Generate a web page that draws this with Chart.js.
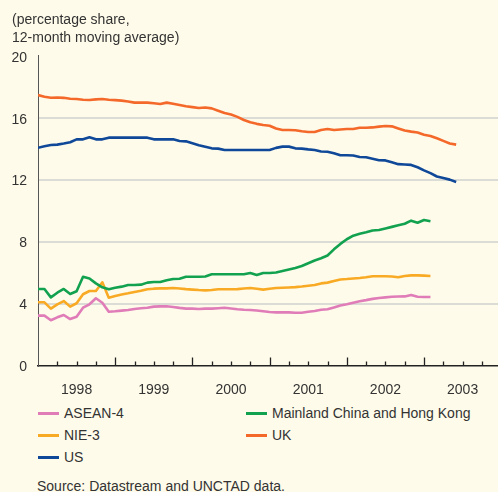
<!DOCTYPE html>
<html>
<head>
<meta charset="utf-8">
<script src="https://cdn.jsdelivr.net/npm/chart.js@4.4.1/dist/chart.umd.min.js"></script>
<style>
  html, body { margin: 0; padding: 0; background: #fefbea; }
  #wrap { position: relative; width: 498px; height: 492px; overflow: hidden; background: #fefbea;
          font-family: "Liberation Sans", Arial, Helvetica, sans-serif; color: #333; font-size: 14px; }
  #c { position: absolute; left: 0; top: 0; }
  .title { position: absolute; left: 12px; top: 11px; line-height: 17.5px; }
  .leg { position: absolute; height: 20px; line-height: 20px; white-space: nowrap; }
  .leg i { position: absolute; left: 0; top: 9px; width: 21px; height: 3px; }
  .leg span { position: absolute; left: 26px; top: 0; }
  .src { position: absolute; left: 37px; top: 478px; }
</style>
</head>
<body>
<div id="wrap">
  <canvas id="c" width="498" height="400"></canvas>
  <div class="title">(percentage share,<br>12-month moving average)</div>
  <div id="legend"></div>
  <div class="src">Source: Datastream and UNCTAD data.</div>
</div>
<script>
// Monthly observations, starting January 1998
const yearLabels = ["1998", "1999", "2000", "2001", "2002", "2003"];
const yTicks = [0, 4, 8, 12, 16, 20];

const seriesNames = ["ASEAN-4", "Mainland China and Hong Kong", "NIE-3", "UK", "US"];

const asean4 = [3.22,3.22,2.92,3.11,3.26,3.00,3.15,3.73,3.95,4.34,4.05,3.47,3.50,3.54,3.58,3.65,3.70,3.73,3.80,3.82,
  3.82,3.78,3.72,3.67,3.67,3.65,3.67,3.67,3.70,3.73,3.68,3.63,3.60,3.58,3.55,3.50,3.45,3.43,3.43,3.43,
  3.41,3.41,3.47,3.52,3.60,3.63,3.75,3.87,3.95,4.05,4.15,4.22,4.30,4.36,4.40,4.44,4.45,4.46,4.55,4.44,
  4.42,4.42];

const chinaHK = [4.94,4.94,4.40,4.70,4.94,4.62,4.79,5.73,5.62,5.30,5.05,4.92,5.02,5.09,5.20,5.20,5.22,5.35,5.39,5.39,
  5.50,5.58,5.60,5.73,5.73,5.73,5.75,5.89,5.89,5.89,5.89,5.89,5.89,5.97,5.84,5.97,5.97,6.00,6.10,6.20,
  6.30,6.42,6.60,6.78,6.92,7.10,7.50,7.85,8.15,8.38,8.50,8.60,8.72,8.75,8.85,8.95,9.05,9.15,9.35,9.22,
  9.39,9.31];

const nie3 = [4.08,4.08,3.67,3.95,4.16,3.80,4.02,4.60,4.81,4.81,5.37,4.38,4.49,4.58,4.66,4.75,4.82,4.92,4.96,4.98,
  4.98,5.00,4.97,4.93,4.90,4.87,4.85,4.87,4.92,4.92,4.92,4.93,4.97,5.00,4.95,4.90,4.95,5.00,5.02,5.04,
  5.06,5.10,5.15,5.20,5.30,5.35,5.45,5.55,5.58,5.62,5.65,5.70,5.76,5.76,5.76,5.75,5.70,5.78,5.82,5.82,
  5.80,5.78];

const uk = [17.46,17.35,17.29,17.30,17.28,17.22,17.20,17.16,17.14,17.18,17.20,17.16,17.13,17.10,17.04,16.97,16.97,16.97,16.93,16.88,
  16.97,16.90,16.82,16.74,16.68,16.62,16.66,16.60,16.45,16.30,16.20,16.05,15.85,15.70,15.60,15.53,15.48,15.30,15.20,15.20,
  15.19,15.12,15.07,15.07,15.20,15.27,15.20,15.24,15.27,15.27,15.35,15.35,15.37,15.42,15.46,15.44,15.30,15.17,15.10,15.04,
  14.90,14.82,14.67,14.50,14.33,14.26];

const us = [14.06,14.15,14.23,14.26,14.33,14.41,14.60,14.60,14.73,14.60,14.60,14.71,14.71,14.71,14.71,14.71,14.71,14.71,14.60,14.60,
  14.60,14.60,14.49,14.47,14.35,14.22,14.12,14.02,14.00,13.91,13.91,13.91,13.91,13.91,13.91,13.91,13.91,14.05,14.13,14.13,
  14.02,14.00,13.95,13.91,13.82,13.80,13.70,13.57,13.57,13.56,13.46,13.44,13.35,13.25,13.24,13.12,13.00,12.98,12.95,12.80,
  12.60,12.42,12.20,12.10,12.00,11.85];

const colors = ["#e07cb8", "#12a24f", "#f9aa25", "#f4692a", "#0f4899"];
const values = [asean4, chinaHK, nie3, uk, us];

const toPoints = arr => arr.map((v, i) => ({ x: i, y: v }));

// Legend (HTML) built from the series names/colours
const legendPos = [[38, 403], [246, 403], [38, 425], [246, 425], [38, 447]];
const legend = document.getElementById('legend');
seriesNames.forEach((n, k) => {
  const d = document.createElement('div');
  d.className = 'leg';
  d.style.left = legendPos[k][0] + 'px';
  d.style.top = legendPos[k][1] + 'px';
  d.innerHTML = '<i style="background:' + colors[k] + '"></i><span>' + n + '</span>';
  legend.appendChild(d);
});

const inwardTicks = {
  id: 'inwardTicks',
  afterDraw(chart) {
    const xs = chart.scales.x;
    const ctx = chart.ctx;
    const bottom = chart.chartArea.bottom;
    ctx.save();
    ctx.strokeStyle = '#222';
    ctx.lineWidth = 1.3;
    for (let m = 3; m <= 71; m += 3) {
      const x = Math.round(xs.getPixelForValue(m)) + 0.5;
      const len = (m % 12 === 0) ? 8 : 4;
      ctx.beginPath();
      ctx.moveTo(x, bottom);
      ctx.lineTo(x, bottom - len);
      ctx.stroke();
    }
    ctx.restore();
  }
};

const FONT = { family: '"Liberation Sans", Arial, Helvetica, sans-serif', size: 14 };

new Chart(document.getElementById('c'), {
  type: 'line',
  data: {
    datasets: seriesNames.map((n, k) => ({
      label: n,
      data: toPoints(values[k]),
      borderColor: colors[k],
      backgroundColor: colors[k],
      borderWidth: 2.6,
      pointRadius: 0,
      tension: 0,
      borderJoinStyle: 'round',
      borderCapStyle: 'butt'
    }))
  },
  options: {
    responsive: false,
    animation: false,
    devicePixelRatio: 1,
    layout: { padding: { top: 55.7, left: 0, right: 0, bottom: 0 } },
    plugins: { legend: { display: false }, tooltip: { enabled: false }, title: { display: false } },
    scales: {
      x: {
        type: 'linear',
        min: 0,
        max: 71.5,
        afterFit(s) { s.height = 34.5; },
        afterBuildTicks(s) { s.ticks = yearLabels.map((_, i) => ({ value: 6 + 12 * i })); },
        ticks: {
          autoSkip: false, maxRotation: 0, padding: 16, color: '#333', font: FONT,
          callback: (v) => yearLabels[Math.round((v - 6) / 12)]
        },
        grid: { display: false, drawTicks: false },
        border: { display: true, color: '#222', width: 1.6 }
      },
      y: {
        min: 0,
        max: 20,
        afterFit(s) { s.width = 38; },
        afterBuildTicks(s) { s.ticks = yTicks.map(v => ({ value: v })); },
        ticks: { padding: 11, labelOffset: 2, color: '#333', font: FONT },
        grid: {
          drawTicks: false,
          lineWidth: 2,
          color: (c) => (c.tick && (c.tick.value === 0 || c.tick.value === 20)) ? 'rgba(0,0,0,0)' : '#dcdcd6'
        },
        border: { display: true, color: '#555', width: 1 }
      }
    }
  },
  plugins: [inwardTicks]
});
</script>
</body>
</html>
